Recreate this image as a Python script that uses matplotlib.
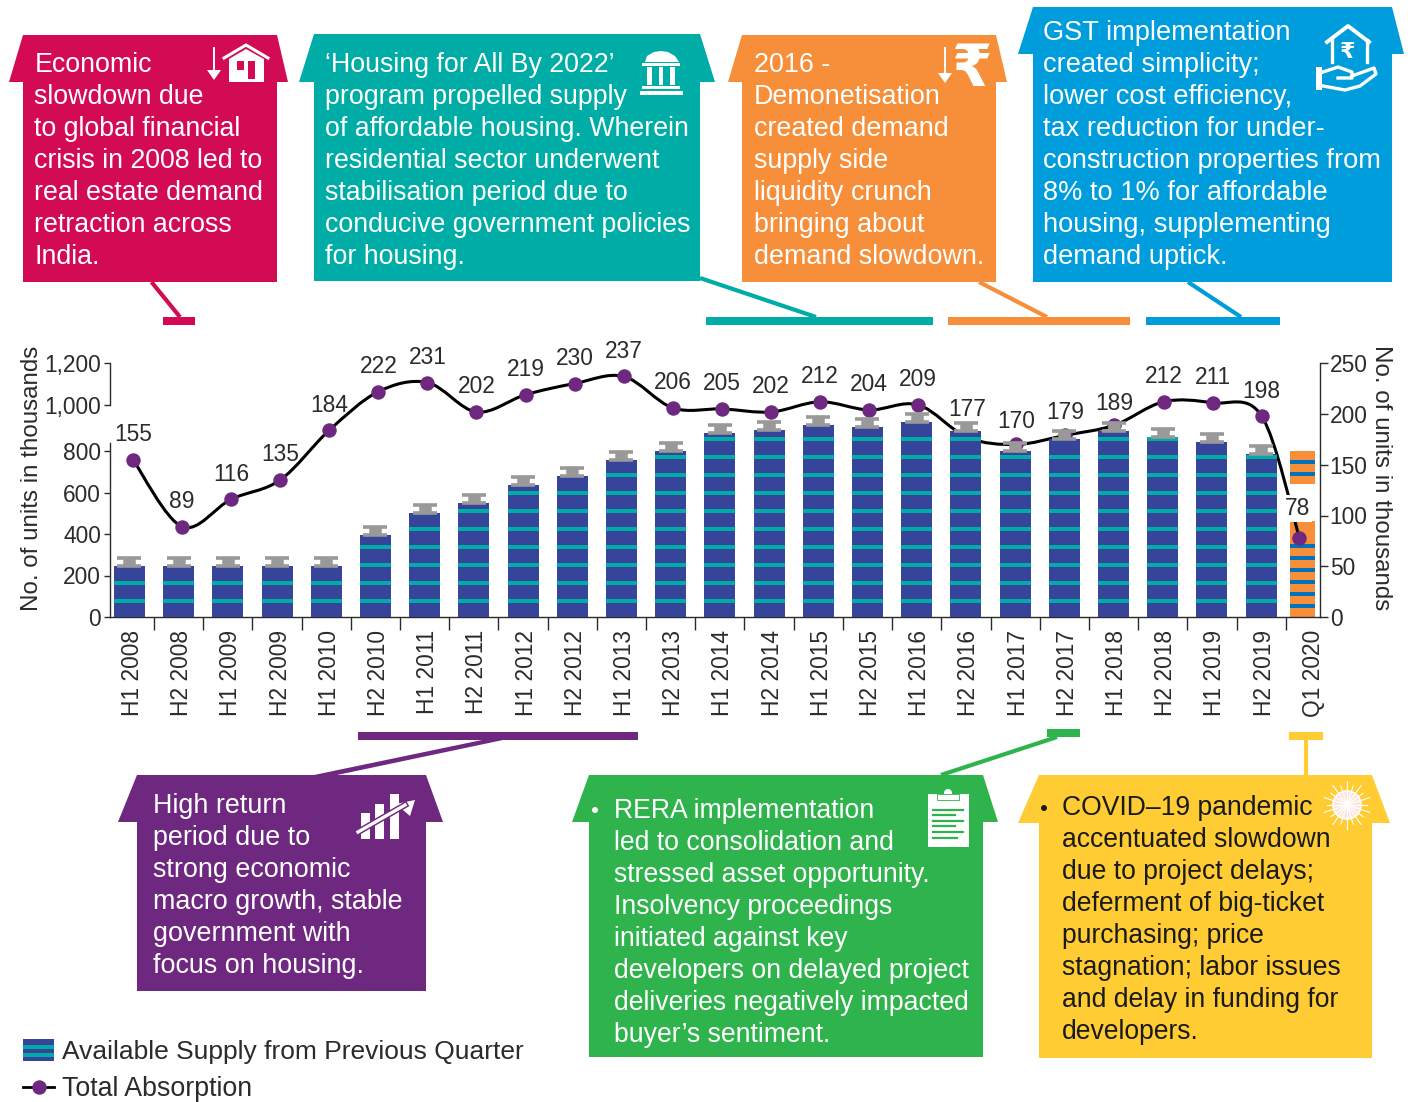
import numpy as np
import matplotlib
matplotlib.use("Agg")
import matplotlib.pyplot as plt
from matplotlib.path import Path
from matplotlib.patches import PathPatch, Polygon, Rectangle, Circle
from matplotlib.transforms import ScaledTranslation

categories = ["H1 2008", "H2 2008", "H1 2009", "H2 2009", "H1 2010", "H2 2010", "H1 2011", "H2 2011",
              "H1 2012", "H2 2012", "H1 2013", "H2 2013", "H1 2014", "H2 2014", "H1 2015", "H2 2015",
              "H1 2016", "H2 2016", "H1 2017", "H2 2017", "H1 2018", "H2 2018", "H1 2019", "H2 2019", "Q1 2020"]
supply = [247, 247, 247, 247, 247, 395, 500, 550, 635, 680, 757, 800, 886, 900, 925, 915,
          940, 895, 800, 858, 897, 868, 843, 786]
supply_q1 = 800
absorption = [155, 89, 116, 135, 184, 222, 231, 202, 219, 230, 237, 206, 205, 202, 212, 204,
              209, 177, 170, 179, 189, 212, 211, 198, 78]
left_ticks = [0, 200, 400, 600, 800]
left_ticks_top = [1000, 1200]
right_ticks = [0, 50, 100, 150, 200, 250]

W, H = 1408, 1102
NAVY = "#36459A"
TEAL = "#00ADA6"
GREY = "#999999"
ORANGE = "#F78E39"
STRIPE_BLUE = "#0072BC"
PURPLE = "#6F2880"
CRIMSON = "#D30B54"
BLUE = "#009DDC"
GREEN = "#2FB34C"
YELLOW = "#FFCC33"
INK = "#2b2b2b"

plt.rcParams["font.family"] = ["Liberation Sans", "DejaVu Sans"]
TICK_FS = 16.4
LABEL_FS = 17.4


def px_axes(fig, x0, y0, x1, y1):
    # pixel box (y downward) to figure fraction
    return fig.add_axes([x0 / W, 1 - y1 / H, (x1 - x0) / W, (y1 - y0) / H])


fig = plt.figure(figsize=(W / 100, H / 100), dpi=100)
ax = px_axes(fig, 110, 362, 1320, 617)
ax.patch.set_alpha(0)

units_per_px = 1 / 0.2075
right_k = 1.015 * units_per_px
ax.set_ylim(0, 255 * units_per_px)
ax.set_xlim(-0.396, 24.197)

x = np.arange(len(supply))
bar_w = 31 / 49.2
ax.bar(x, supply, width=bar_w, color=NAVY, zorder=3)
cap_h = 8 * units_per_px
ax.errorbar(x, supply, yerr=[np.zeros(len(supply)), np.full(len(supply), cap_h)], fmt="none",
            ecolor=GREY, elinewidth=9, capsize=8.5, capthick=2.6, zorder=3.2)

# teal stripes every 18 px up each bar
for xi, top in zip(x, supply):
    k = 0
    while True:
        low = (14 + 18 * k) * units_per_px
        high = low + 4 * units_per_px
        if high > top:
            break
        ax.bar(xi, high - low, bottom=low, width=bar_w, color=TEAL, zorder=3.1)
        k += 1

# Q1 2020 bar, under the line
q1_x = 23.84
q1_w = 25 / 49.2
ax.bar(q1_x, supply_q1, width=q1_w, color=ORANGE, zorder=1)
for k in [0, 1, 2, 3, 4, 5, 11, 12]:
    ax.bar(q1_x, 4 * units_per_px, bottom=(9 + 12 * k) * units_per_px, width=q1_w, color=STRIPE_BLUE, zorder=1.1)
ax.bar(q1_x, 37 * units_per_px, bottom=96 * units_per_px, width=q1_w + 0.02, color="white", zorder=1.5)

# absorption line, smooth through the points
line_x = 0.071 + np.arange(len(absorption)) * 0.9974
line_x[-1] = 23.78
line_y = np.array(absorption) * right_k
pts = np.column_stack([line_x, line_y])
verts = [pts[0]]
codes = [Path.MOVETO]
for i in range(len(pts) - 1):
    p0 = pts[max(i - 1, 0)]
    p1 = pts[i]
    p2 = pts[i + 1]
    p3 = pts[min(i + 2, len(pts) - 1)]
    verts += [p1 + (p2 - p0) / 6, p2 - (p3 - p1) / 6, p2]
    codes += [Path.CURVE4] * 3
ax.add_patch(PathPatch(Path(verts, codes), fill=False, edgecolor="black", lw=2.2, zorder=2))
ax.plot(line_x, line_y, ls="none", marker="o", ms=10.4, mfc=PURPLE, mec=PURPLE, mew=0, zorder=2.5)

offsets = [25] * len(absorption)
offsets[17] = 28
offsets[18] = 23
offsets[19] = 23
offsets[20] = 22
for xi, yi, v, off in zip(line_x, line_y, absorption, offsets):
    if v == 78:
        ax.annotate(str(v), (xi, yi), xytext=(-1.5, 29 * 0.72), textcoords="offset points", ha="center", va="center",
                    fontsize=TICK_FS, color=INK, zorder=6,
                    bbox=dict(fc="white", ec="none", pad=1.5))
    else:
        ax.annotate(str(v), (xi, yi), xytext=(0, off * 0.72), textcoords="offset points", ha="center", va="center",
                    fontsize=TICK_FS, color=INK, zorder=6)

# axes
ax.spines["top"].set_visible(False)
ax.spines["right"].set_visible(False)
for s in ["left", "bottom"]:
    ax.spines[s].set_color(INK)
    ax.spines[s].set_linewidth(1.0)
ax.spines["left"].set_bounds(0, 174 * units_per_px)
ax.set_yticks(left_ticks)
ax.set_yticklabels([f"{t:,}" for t in left_ticks], fontsize=TICK_FS, color=INK)
ax.tick_params(axis="y", length=4.5, width=1.0, color=INK, pad=2)
ax.set_xticks(np.arange(24) + 0.5)
ax.set_xticklabels([])
ax.tick_params(axis="x", length=9, width=1.0, color=INK)
ax.set_xticks(np.arange(25), minor=True)
ax.set_xticklabels(categories, minor=True, rotation=90, fontsize=TICK_FS, color=INK, ha="center", va="top")
ax.tick_params(axis="x", which="minor", length=0, pad=9)
for lab in ax.get_xticklabels(minor=True):
    lab.set_transform(lab.get_transform() + ScaledTranslation(3 / 100, 0, fig.dpi_scale_trans))

sec = ax.secondary_yaxis("right", functions=(lambda v: v / right_k, lambda v: v * right_k))
sec.set_yticks(right_ticks)
sec.set_yticklabels([str(t) for t in right_ticks], fontsize=TICK_FS, color=INK)
sec.tick_params(axis="y", length=6, width=1.0, color=INK, pad=1)
sec.spines["right"].set_color(INK)
sec.spines["right"].set_linewidth(1.0)
sec.spines["right"].set_bounds(0, 250)

# broken top of the left axis
top_ax = px_axes(fig, 110, 363, 110.01, 405)
top_ax.patch.set_alpha(0)
top_ax.set_ylim(1000, 1200)
top_ax.set_xticks([])
top_ax.set_yticks(left_ticks_top)
top_ax.set_yticklabels([f"{t:,}" for t in left_ticks_top], fontsize=TICK_FS, color=INK)
top_ax.tick_params(axis="y", length=4.5, width=1.0, color=INK, pad=2)
for s in ["top", "bottom", "right"]:
    top_ax.spines[s].set_visible(False)
top_ax.spines["left"].set_color(INK)
top_ax.spines["left"].set_linewidth(1.0)

# overlay in pixels for callouts and legend
ov = fig.add_axes([0, 0, 1, 1], zorder=10)
ov.set_xlim(0, W)
ov.set_ylim(H, 0)
ov.axis("off")
ov.patch.set_alpha(0)

ov.text(32, 478, "No. of units in thousands", rotation=90, ha="center", va="center", fontsize=LABEL_FS, color=INK)
ov.text(1381, 478, "No. of units in thousands", rotation=270, ha="center", va="center", fontsize=LABEL_FS, color=INK)


def callout(body, eave_l, eave_r, top_y, eave_y, bottom, color, lines, tx, base, fs, tcolor="white"):
    l, r = body
    ov.add_patch(Polygon([(l, top_y), (r, top_y), (eave_r, eave_y), (r, eave_y), (r, bottom), (l, bottom),
                          (l, eave_y), (eave_l, eave_y)], closed=True, fc=color, ec="none"))
    for i, s in enumerate(lines):
        ov.text(tx, base + 32 * i, s, color=tcolor, fontsize=fs, ha="left", va="baseline")


def stem(x0, y0, x1, y1, color):
    ov.plot([x0, x1], [y0, y1], color=color, lw=3, solid_capstyle="butt")


def foot(x0, x1, y0, y1, color):
    ov.add_patch(Rectangle((x0, y0), x1 - x0, y1 - y0, fc=color, ec="none"))


def down_arrow(xc, y0, y1):
    ov.plot([xc, xc], [y0, y1 - 8], color="white", lw=1.4)
    ov.add_patch(Polygon([(xc - 7, y1 - 10), (xc + 7, y1 - 10), (xc, y1)], closed=True, fc="white", ec="none"))


crimson_lines = ["Economic", "slowdown due", "to global financial", "crisis in 2008 led to", "real estate demand",
                 "retraction across", "India."]
teal_lines = ["\u2018Housing for All By 2022\u2019", "program propelled supply", "of affordable housing. Wherein",
              "residential sector underwent", "stabilisation period due to", "conducive government policies",
              "for housing."]
orange_lines = ["2016 -", "Demonetisation", "created demand", "supply side", "liquidity crunch", "bringing about",
                "demand slowdown."]
blue_lines = ["GST implementation", "created simplicity;", "lower cost efficiency,", "tax reduction for under-",
              "construction properties from", "8% to 1% for affordable", "housing, supplementing", "demand uptick."]
purple_lines = ["High return", "period due to", "strong economic", "macro growth, stable", "government with",
                "focus on housing."]
green_lines = ["RERA implementation", "led to consolidation and", "stressed asset opportunity.",
               "Insolvency proceedings", "initiated against key", "developers on delayed project",
               "deliveries negatively impacted", "buyer\u2019s sentiment."]
yellow_lines = ["COVID\u201319 pandemic", "accentuated slowdown", "due to project delays;", "deferment of big-ticket",
                "purchasing; price", "stagnation; labor issues", "and delay in funding for", "developers."]

callout((23, 277), 9, 288, 35, 82, 282, CRIMSON, crimson_lines, 34.5, 72.5, 19.3)
stem(151.5, 282, 180, 317, CRIMSON)
foot(163, 195, 317, 325, CRIMSON)
callout((314, 700), 299, 715, 34, 82, 281, TEAL, teal_lines, 325, 72.5, 19.25)
stem(700, 278, 816, 317, TEAL)
foot(706, 933, 317, 325, TEAL)
callout((742, 996), 728, 1007, 35, 82, 282, ORANGE, orange_lines, 753.5, 72.5, 19.4)
stem(979, 282, 1047, 317, ORANGE)
foot(948, 1130, 317, 325, ORANGE)
callout((1033, 1392), 1018, 1404, 7, 54, 282, BLUE, blue_lines, 1043, 40, 19.6)
stem(1188, 282, 1241, 317, BLUE)
foot(1146, 1280, 317, 325, BLUE)
callout((137, 426), 118, 443, 775, 822, 991, PURPLE, purple_lines, 153, 813, 19.4)
ov.add_patch(Polygon([(314, 775), (337, 775), (503, 740), (482, 740)], closed=True, fc=PURPLE, ec="none"))
foot(358, 638, 732, 740, PURPLE)
callout((589, 983), 572, 998, 775, 822, 1057, GREEN, green_lines, 613.5, 818, 19.15)
stem(941, 775, 1057, 737, GREEN)
foot(1047, 1080, 729, 737, GREEN)
ov.add_patch(Circle((595, 810), 3, fc="white", ec="none"))
callout((1039, 1372), 1018, 1390, 775, 823, 1058, YELLOW, yellow_lines, 1062, 815, 19.1, tcolor="#1a1a1a")
stem(1306, 740, 1306, 775, YELLOW)
foot(1289, 1323, 732, 740, YELLOW)
ov.add_patch(Circle((1044, 808), 3, fc="#1a1a1a", ec="none"))

# icons
down_arrow(214, 48, 80)
ov.plot([224, 246, 268], [58, 45, 58], color="white", lw=2.2)
ov.add_patch(Polygon([(229, 82), (229, 59), (246, 49), (264, 59), (264, 82)], closed=True, fc="white", ec="none"))
ov.add_patch(Rectangle((237, 61), 7, 9, fc=CRIMSON, ec="none"))
ov.add_patch(Rectangle((248, 61), 7, 18, fc=CRIMSON, ec="none"))

ov.add_patch(Polygon([(645, 62), (647, 56), (654, 52), (661, 51), (668, 52), (675, 56), (679, 62)], closed=True,
                     fc="white", ec="none"))
for bx0, bx1, by0, by1 in [(642, 680, 63, 66), (647, 652, 67, 85), (659, 663, 67, 85), (670, 675, 67, 85),
                           (642, 680, 86, 89), (640, 683, 91, 95)]:
    ov.add_patch(Rectangle((bx0, by0), bx1 - bx0, by1 - by0, fc="white", ec="none"))

down_arrow(945, 48, 83)
ov.text(971, 70, "\u20b9", color="white", fontsize=42, ha="center", va="center", family="DejaVu Sans", weight="bold")

ov.plot([1327, 1348, 1369], [42, 26, 42], color="white", lw=2.8)
ov.plot([1332, 1332], [40, 62], color="white", lw=2.4)
ov.plot([1367, 1367], [40, 62], color="white", lw=2.4)
ov.text(1348, 52, "\u20b9", color="white", fontsize=16, ha="center", va="center", family="DejaVu Sans", weight="bold")
ov.add_patch(Rectangle((1316, 67), 6, 23, fc="white", ec="none"))
ov.plot([1323, 1338, 1352, 1352, 1338], [72, 67, 72, 78, 78], color="white", lw=2.4)
ov.plot([1352, 1374, 1376, 1360, 1345, 1323], [76, 68, 74, 86, 90, 86], color="white", lw=2.4)

for bx0, bx1, by0 in [(361, 370, 813), (375, 384, 804), (390, 399, 794)]:
    ov.add_patch(Rectangle((bx0, by0), bx1 - bx0, 839 - by0, fc="white", ec="none"))
ov.plot([358, 405], [832, 805], color=PURPLE, lw=4.5)
ov.plot([358, 405], [832, 805], color="white", lw=2.4)
ov.add_patch(Polygon([(415, 800), (396, 804), (410, 816)], closed=True, fc="white", ec="none"))

ov.add_patch(Rectangle((928, 794), 41, 53, fc="white", ec="none"))
ov.add_patch(Circle((948, 793), 4, fc="white", ec="none"))
ov.add_patch(Rectangle((937, 794), 22, 6, fc="white", ec=GREEN, lw=0.6))
for ly, lx1 in zip([810, 815, 821, 826, 832, 838], [963, 955, 963, 955, 963, 957]):
    ov.plot([933, lx1], [ly, ly], color=GREEN, lw=1.6)

spike_angles = np.deg2rad(np.arange(0, 360, 18))
for i, a in enumerate(spike_angles):
    r1 = 24 if i % 2 else 20
    ov.plot([1347, 1347 + r1 * np.cos(a)], [805, 805 + r1 * np.sin(a)], color="white", lw=0.8)
ov.add_patch(Circle((1347, 805), 14, fc="#FBE6DE", ec="white", lw=1.2))

# legend
ov.add_patch(Rectangle((23, 1039), 31, 22, fc=NAVY, ec="none"))
ov.add_patch(Rectangle((23, 1045), 31, 4, fc=TEAL, ec="none"))
ov.add_patch(Rectangle((23, 1053), 31, 4, fc=TEAL, ec="none"))
ov.text(62, 1059, "Available Supply from Previous Quarter", fontsize=19.0, color=INK, ha="left", va="baseline")
ov.plot([23, 54], [1087, 1087], color="black", lw=2.0)
ov.plot([39], [1087], marker="o", ms=10.4, mfc=PURPLE, mec=PURPLE, mew=0)
ov.text(62, 1096, "Total Absorption", fontsize=19.3, color=INK, ha="left", va="baseline")

fig.savefig("out.png", dpi=100)
